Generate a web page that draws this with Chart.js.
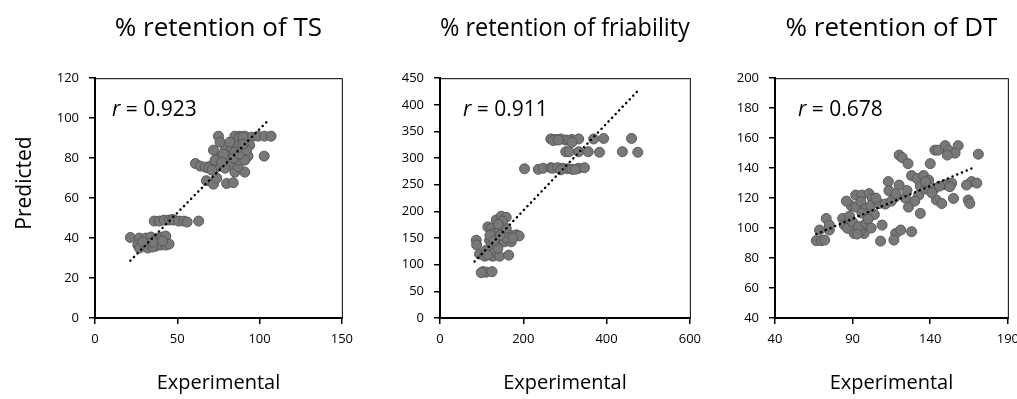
<!DOCTYPE html>
<html>
<head>
<meta charset="utf-8">
<script src="https://cdn.jsdelivr.net/npm/chart.js@4.4.1/dist/chart.umd.min.js"></script>
<style>
  body { margin: 0; background: #fff; width: 1017px; height: 399px; overflow: hidden; position: relative; }
  canvas { position: absolute; top: 0; }
</style>
</head>
<body>
<canvas id="tsChart" width="360" height="399" style="left:0px"></canvas>
<canvas id="friChart" width="348" height="399" style="left:360px"></canvas>
<canvas id="dtChart" width="318" height="399" style="left:708px"></canvas>
<script>
// panel titles and r values
const titles = ['% retention of TS', '% retention of friability', '% retention of DT'];
const rValues = ['0.923', '0.911', '0.678'];
const xTitle = 'Experimental';
const yTitle = 'Predicted';

// axis ranges: [min, max, step]
const tsXAxis = [0, 150, 50];
const tsYAxis = [0, 120, 20];
const friXAxis = [0, 600, 200];
const friYAxis = [0, 450, 50];
const dtXAxis = [40, 190, 50];
const dtYAxis = [40, 200, 20];

// % retention of TS
const tsExp = [21.5, 27, 31, 34, 38, 41, 43, 26, 29, 33, 37, 40, 43, 45, 27, 32, 35, 29, 35, 41,
  36, 39, 42, 45, 47, 48, 51, 54, 56, 63,
  61, 64, 67, 70, 73, 76, 79, 69, 71, 67.7, 72, 80, 84, 74, 85, 91, 83, 87, 79,
  75, 85, 88, 91, 95, 99, 103, 107, 87.5, 90, 102.8, 93, 94, 79, 83, 87, 75, 81, 87, 91,
  72, 76, 78, 85, 89, 82, 84, 88, 92, 90, 73, 77];
const tsPred = [40.3, 40, 40, 40.5, 40, 40.5, 41, 36.5, 36, 36.5, 36, 36.5, 36.5, 37, 35, 35, 35.5, 38, 38, 38.5,
  48.5, 48.5, 49, 49, 49.3, 49, 48.5, 48.5, 48, 48.5,
  77.3, 76, 75.5, 76, 75, 76, 76.5, 75, 74, 68.7, 67, 67.3, 67.7, 70, 73, 73, 77, 75.7, 75,
  91, 91, 91, 91, 90.5, 91, 91, 91, 90, 90.5, 81, 81, 86.5, 84, 85, 86.5, 80, 80.7, 79, 79,
  84, 88, 82, 83, 84, 88, 80, 82, 84, 87, 79, 78];
const tsTrendX = [21.5, 105];
const tsTrendY = [28.7, 98.7];

// % retention of friability
const friExp = [266, 278, 290, 302, 317, 333, 369, 393, 460, 272, 284, 310, 317,
  302, 310, 333, 356, 383, 438, 475,
  203, 236, 248, 266, 270, 282, 294, 306, 317, 333, 347, 290, 325,
  103, 111, 125, 99, 87, 88, 95, 107, 127, 143, 165, 115, 123, 135, 147, 159, 119, 135, 151,
  167, 183, 190, 123, 139, 155, 171, 127, 143, 139, 111, 159, 150, 140, 120, 130, 160, 175, 115, 145];
const friPred = [336, 335, 336, 334, 335, 336, 336, 337, 337, 333, 334, 333, 330,
  312, 312, 312, 312, 311, 312, 311,
  280, 279, 281, 282, 281, 282, 281, 280, 279, 281, 282, 278, 279,
  87, 86, 87, 85, 146, 137, 120, 116, 116, 116, 118, 171, 168, 184, 191, 189, 146, 149, 152,
  156, 156, 154, 137, 137, 143, 143, 159, 162, 131, 127, 168, 182, 176, 155, 145, 150, 150, 118, 155];
const friTrendX = [83, 476];
const friTrendY = [106, 427];

// % retention of DT
const dtExp = [66.6, 69.8, 72, 68.7, 75, 73, 75, 83.6, 84.7, 86.8, 91, 97.4, 95, 89, 92, 96, 100.6, 102.8,
  92, 95.3, 98.5, 90, 94, 98.5, 104, 101.7, 107, 109, 108, 113, 113.4, 111, 117.7, 121, 128, 116.6,
  120, 122, 125.7, 120, 117.7, 124, 126, 128, 131.5, 135.7, 139, 133.6, 132.6, 133.6, 140, 143, 145,
  149.6, 151.7, 158, 156, 151, 142, 144, 147.4, 149.6, 153.8, 152.7, 155, 164.5, 165.5, 166.6, 170,
  163.4, 171, 136.8, 141, 96, 100, 88, 105, 115, 118, 125, 130, 137, 146, 86, 93, 102];
const dtPred = [91.6, 91.6, 92, 98.7, 98.7, 106.4, 102, 106.4, 102, 99.8, 96.4, 96.4, 98, 115, 122, 122, 123, 119.8,
  114, 117.6, 113, 104, 101, 103, 109, 115, 116.4, 102, 91.3, 131, 125, 116, 96.4, 98.7, 97.6, 92,
  148.7, 147, 143, 128.7, 121, 120, 114, 135, 133, 135, 132, 128, 122, 109.8, 143, 152, 152,
  155, 152, 155, 150, 148.7, 125.3, 118.7, 116.4, 129, 130, 127.6, 119.8, 118.7, 116.4, 131, 130,
  128.7, 149.3, 126, 123.5, 110, 106, 108, 120, 118, 123, 125, 118, 131, 128, 118, 96, 100];
const dtTrendX = [66.6, 169.4];
const dtTrendY = [96, 141];

const FONT = "'Open Sans', 'Noto Sans', sans-serif";

// thin box round the plot area
const framePlugin = {
  id: 'frame',
  beforeDatasetsDraw(chart) {
    const a = chart.chartArea;
    const ctx = chart.ctx;
    ctx.save();
    ctx.strokeStyle = '#000';
    ctx.lineWidth = 1;
    ctx.strokeRect(a.left + 0.5, a.top + 0.5, a.right - a.left, a.bottom - a.top);
    ctx.restore();
  }
};

// "r = ..." label (r in italics) and the optional rotated y title
const labelPlugin = {
  id: 'labels',
  afterDraw(chart, args, opts) {
    const a = chart.chartArea;
    const ctx = chart.ctx;
    const x = a.left + opts.dx;
    const y = a.top + 32;
    ctx.save();
    ctx.fillStyle = '#000';
    ctx.textBaseline = 'middle';
    ctx.font = 'italic 21px ' + FONT;
    ctx.fillText('r', x, y);
    const w = ctx.measureText('r').width;
    ctx.font = '21px ' + FONT;
    ctx.fillText(' = ' + opts.value, x + w, y);
    if (opts.yTitle) {
      ctx.translate(25, 183);
      ctx.rotate(-Math.PI / 2);
      ctx.textAlign = 'center';
      ctx.font = '21px ' + FONT;
      ctx.fillText(opts.yTitle, 0, 0);
    }
    ctx.restore();
  }
};

function toPoints(xs, ys) {
  return xs.map((x, i) => ({ x: x, y: ys[i] }));
}

function axis(range, fit, title, tickPad) {
  return {
    type: 'linear',
    min: range[0],
    max: range[1],
    ticks: { stepSize: range[2], padding: tickPad, color: '#000', font: { family: FONT, size: 13 } },
    grid: { drawOnChartArea: false, tickLength: 6, color: '#000', lineWidth: 1.5 },
    border: { color: '#000', width: 2 },
    title: {
      display: !!title,
      text: title || '',
      color: '#000',
      font: { family: FONT, size: 20 },
      padding: { top: 0, bottom: 4 }
    },
    afterFit: fit
  };
}

function makePanel(id, o) {
  const ctx = document.getElementById(id).getContext('2d');
  new Chart(ctx, {
    type: 'scatter',
    data: {
      datasets: [
        {
          data: toPoints(o.trendX, o.trendY),
          showLine: true,
          borderColor: '#000',
          borderWidth: 2.5,
          borderDash: [0.1, 5],
          borderCapStyle: 'round',
          pointRadius: 0,
          order: 0
        },
        {
          data: toPoints(o.xs, o.ys),
          pointRadius: 5,
          backgroundColor: '#787878',
          borderColor: '#595959',
          borderWidth: 1,
          order: 1
        }
      ]
    },
    options: {
      responsive: false,
      animation: false,
      layout: { padding: { left: 0, right: 16, top: 0, bottom: 0 } },
      scales: {
        x: axis(o.xAxis, (s) => { s.height = 81; }, xTitle, 7),
        y: axis(o.yAxis, (s) => { s.width = o.yWidth; }, null, 10)
      },
      plugins: {
        legend: { display: false },
        tooltip: { enabled: false },
        title: {
          display: true,
          text: o.title,
          fullSize: false,
          color: '#000',
          font: { family: FONT, size: 26, weight: 'normal' },
          padding: { top: 13, bottom: 34 }
        },
        labels: { value: o.r, dx: o.rdx, yTitle: o.yTitle }
      }
    },
    plugins: [framePlugin, labelPlugin]
  });
}

makePanel('tsChart', {
  title: titles[0], r: rValues[0], rdx: 17, xs: tsExp, ys: tsPred,
  trendX: tsTrendX, trendY: tsTrendY, xAxis: tsXAxis, yAxis: tsYAxis, yWidth: 95, yTitle: yTitle
});
makePanel('friChart', {
  title: titles[1], r: rValues[1], rdx: 23, xs: friExp, ys: friPred,
  trendX: friTrendX, trendY: friTrendY, xAxis: friXAxis, yAxis: friYAxis, yWidth: 80
});
makePanel('dtChart', {
  title: titles[2], r: rValues[2], rdx: 23, xs: dtExp, ys: dtPred,
  trendX: dtTrendX, trendY: dtTrendY, xAxis: dtXAxis, yAxis: dtYAxis, yWidth: 67
});
</script>
</body>
</html>
